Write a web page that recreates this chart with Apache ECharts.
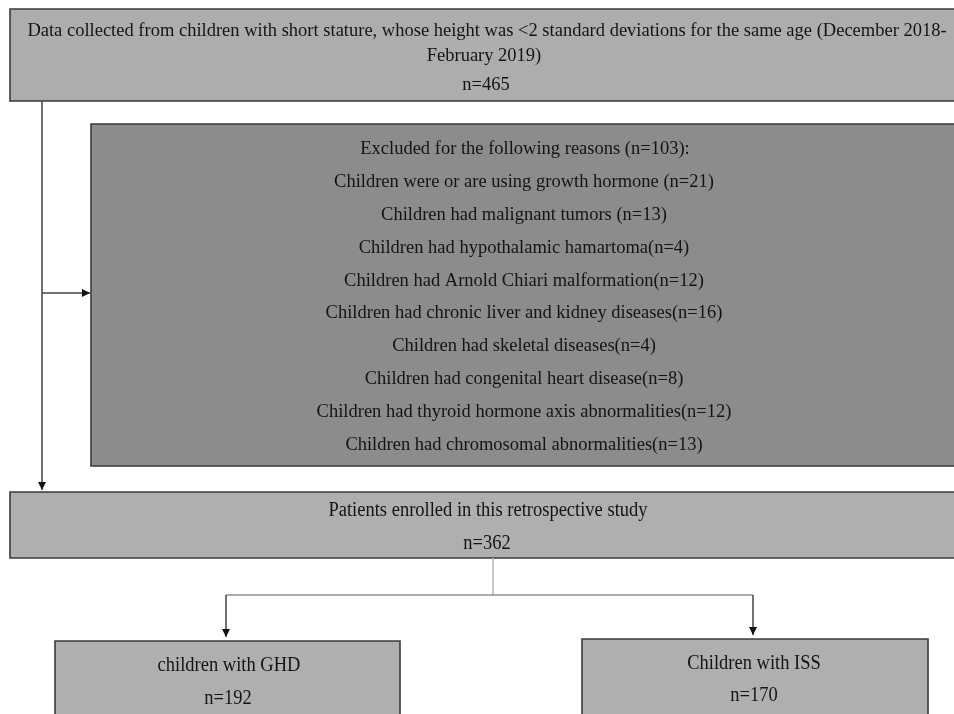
<!DOCTYPE html>
<html><head><meta charset="utf-8">
<script src="https://cdn.jsdelivr.net/npm/echarts@6/dist/echarts.min.js"></script>
<style>html,body{margin:0;padding:0;background:#fff}#c{width:954px;height:714px}</style>
</head><body><div id="c"></div>
<script>
// ---------- data ----------
const sourceLines = [
  "Data collected from children with short stature, whose height was <2 standard deviations for the same age (December 2018-",
  "February 2019)"
];
const totalN = 465;
const excludedN = 103;
const exclusionReasons = [
  "Children were or are using growth hormone ",
  "Children had malignant tumors ",
  "Children had hypothalamic hamartoma",
  "Children had Arnold Chiari malformation",
  "Children had chronic liver and kidney diseases",
  "Children had skeletal diseases",
  "Children had congenital heart disease",
  "Children had thyroid hormone axis abnormalities",
  "Children had chromosomal abnormalities"
];
const exclusionCounts = [21, 13, 4, 12, 16, 4, 8, 12, 13];
const enrolledLabel = "Patients enrolled in this retrospective study";
const enrolledN = 362;
const groupLabels = ["children with GHD", "Children with ISS"];
const groupCounts = [192, 170];

// ---------- layout (pixel space of hidden axes) ----------
const W = 954, H = 714;
const boxes = [
  {x0: 10, y0: 9, x1: 975, y1: 101, fill: '#adadad'},
  {x0: 91, y0: 124, x1: 975, y1: 466, fill: '#8c8c8c'},
  {x0: 10, y0: 492, x1: 975, y1: 558, fill: '#afafaf'},
  {x0: 55, y0: 641, x1: 400, y1: 740, fill: '#afafaf'},
  {x0: 582, y0: 639, x1: 928, y1: 740, fill: '#afafaf'}
];
const connectors = [
  {pts: [[42, 101], [42, 490]], arrow: 'down', color: '#444'},
  {pts: [[42, 293], [90, 293]], arrow: 'right', color: '#444'},
  {pts: [[493, 558], [493, 595]], arrow: null, color: '#b4b4b4'},
  {pts: [[226, 595], [753, 595]], arrow: null, color: '#909090'},
  {pts: [[226, 595], [226, 637]], arrow: 'down', color: '#444'},
  {pts: [[753, 595], [753, 635]], arrow: 'down', color: '#444'}
];

const texts = [];
texts.push({t: sourceLines[0], x: 487, y: 31});
texts.push({t: sourceLines[1], x: 484, y: 56});
texts.push({t: 'n=' + totalN, x: 486, y: 85});
texts.push({t: 'Excluded for the following reasons (n=' + excludedN + '):', x: 525, y: 149});
exclusionReasons.forEach((r, i) => {
  texts.push({t: r + '(n=' + exclusionCounts[i] + ')', x: 524, y: 182 + 32.9 * i});
});
texts.push({t: enrolledLabel, x: 488, y: 511, sy: 1.08});
texts.push({t: 'n=' + enrolledN, x: 487, y: 544, sy: 1.08});
texts.push({t: groupLabels[0], x: 229, y: 666, sy: 1.08});
texts.push({t: 'n=' + groupCounts[0], x: 228, y: 699, sy: 1.08});
texts.push({t: groupLabels[1], x: 754, y: 664, sy: 1.08});
texts.push({t: 'n=' + groupCounts[1], x: 754, y: 696, sy: 1.08});

const FONT = '"Liberation Serif", "Times New Roman", serif';

const chart = echarts.init(document.getElementById('c'), null, {renderer: 'canvas'});
chart.setOption({
  animation: false,
  backgroundColor: '#ffffff',
  grid: {left: 0, right: 0, top: 0, bottom: 0},
  xAxis: {type: 'value', min: 0, max: W, show: false},
  yAxis: {type: 'value', min: 0, max: H, inverse: true, show: false},
  series: [
    {
      type: 'custom', z: 1, silent: true,
      data: boxes.map((b, i) => i),
      renderItem: function (params, api) {
        const b = boxes[params.dataIndex];
        const p0 = api.coord([b.x0, b.y0]);
        const p1 = api.coord([b.x1, b.y1]);
        return {
          type: 'rect',
          shape: {x: p0[0], y: p0[1], width: p1[0] - p0[0], height: p1[1] - p0[1]},
          style: {fill: b.fill, stroke: '#3a3a3a', lineWidth: 1.6}
        };
      }
    },
    {
      type: 'custom', z: 2, silent: true,
      data: connectors.map((c, i) => i),
      renderItem: function (params, api) {
        const c = connectors[params.dataIndex];
        const pts = c.pts.map(p => api.coord(p));
        const children = [{
          type: 'polyline',
          shape: {points: pts},
          style: {stroke: c.color, lineWidth: 1.5, fill: null}
        }];
        if (c.arrow) {
          const e = pts[pts.length - 1];
          let poly;
          if (c.arrow === 'down') poly = [[e[0] - 4, e[1] - 8], [e[0] + 4, e[1] - 8], [e[0], e[1]]];
          else poly = [[e[0] - 8, e[1] - 4], [e[0] - 8, e[1] + 4], [e[0], e[1]]];
          children.push({type: 'polygon', shape: {points: poly}, style: {fill: '#111'}});
        }
        return {type: 'group', children: children};
      }
    },
    {
      type: 'custom', z: 3, silent: true,
      data: texts.map((t, i) => i),
      renderItem: function (params, api) {
        const t = texts[params.dataIndex];
        const p = api.coord([t.x, t.y]);
        return {
          type: 'text',
          x: p[0], y: p[1],
          scaleY: t.sy || 1,
          style: {
            text: t.t,
            fontFamily: FONT,
            fontSize: 18.5,
            fill: '#141414',
            align: 'center',
            verticalAlign: 'middle'
          }
        };
      }
    }
  ]
});
</script>
</body></html>
